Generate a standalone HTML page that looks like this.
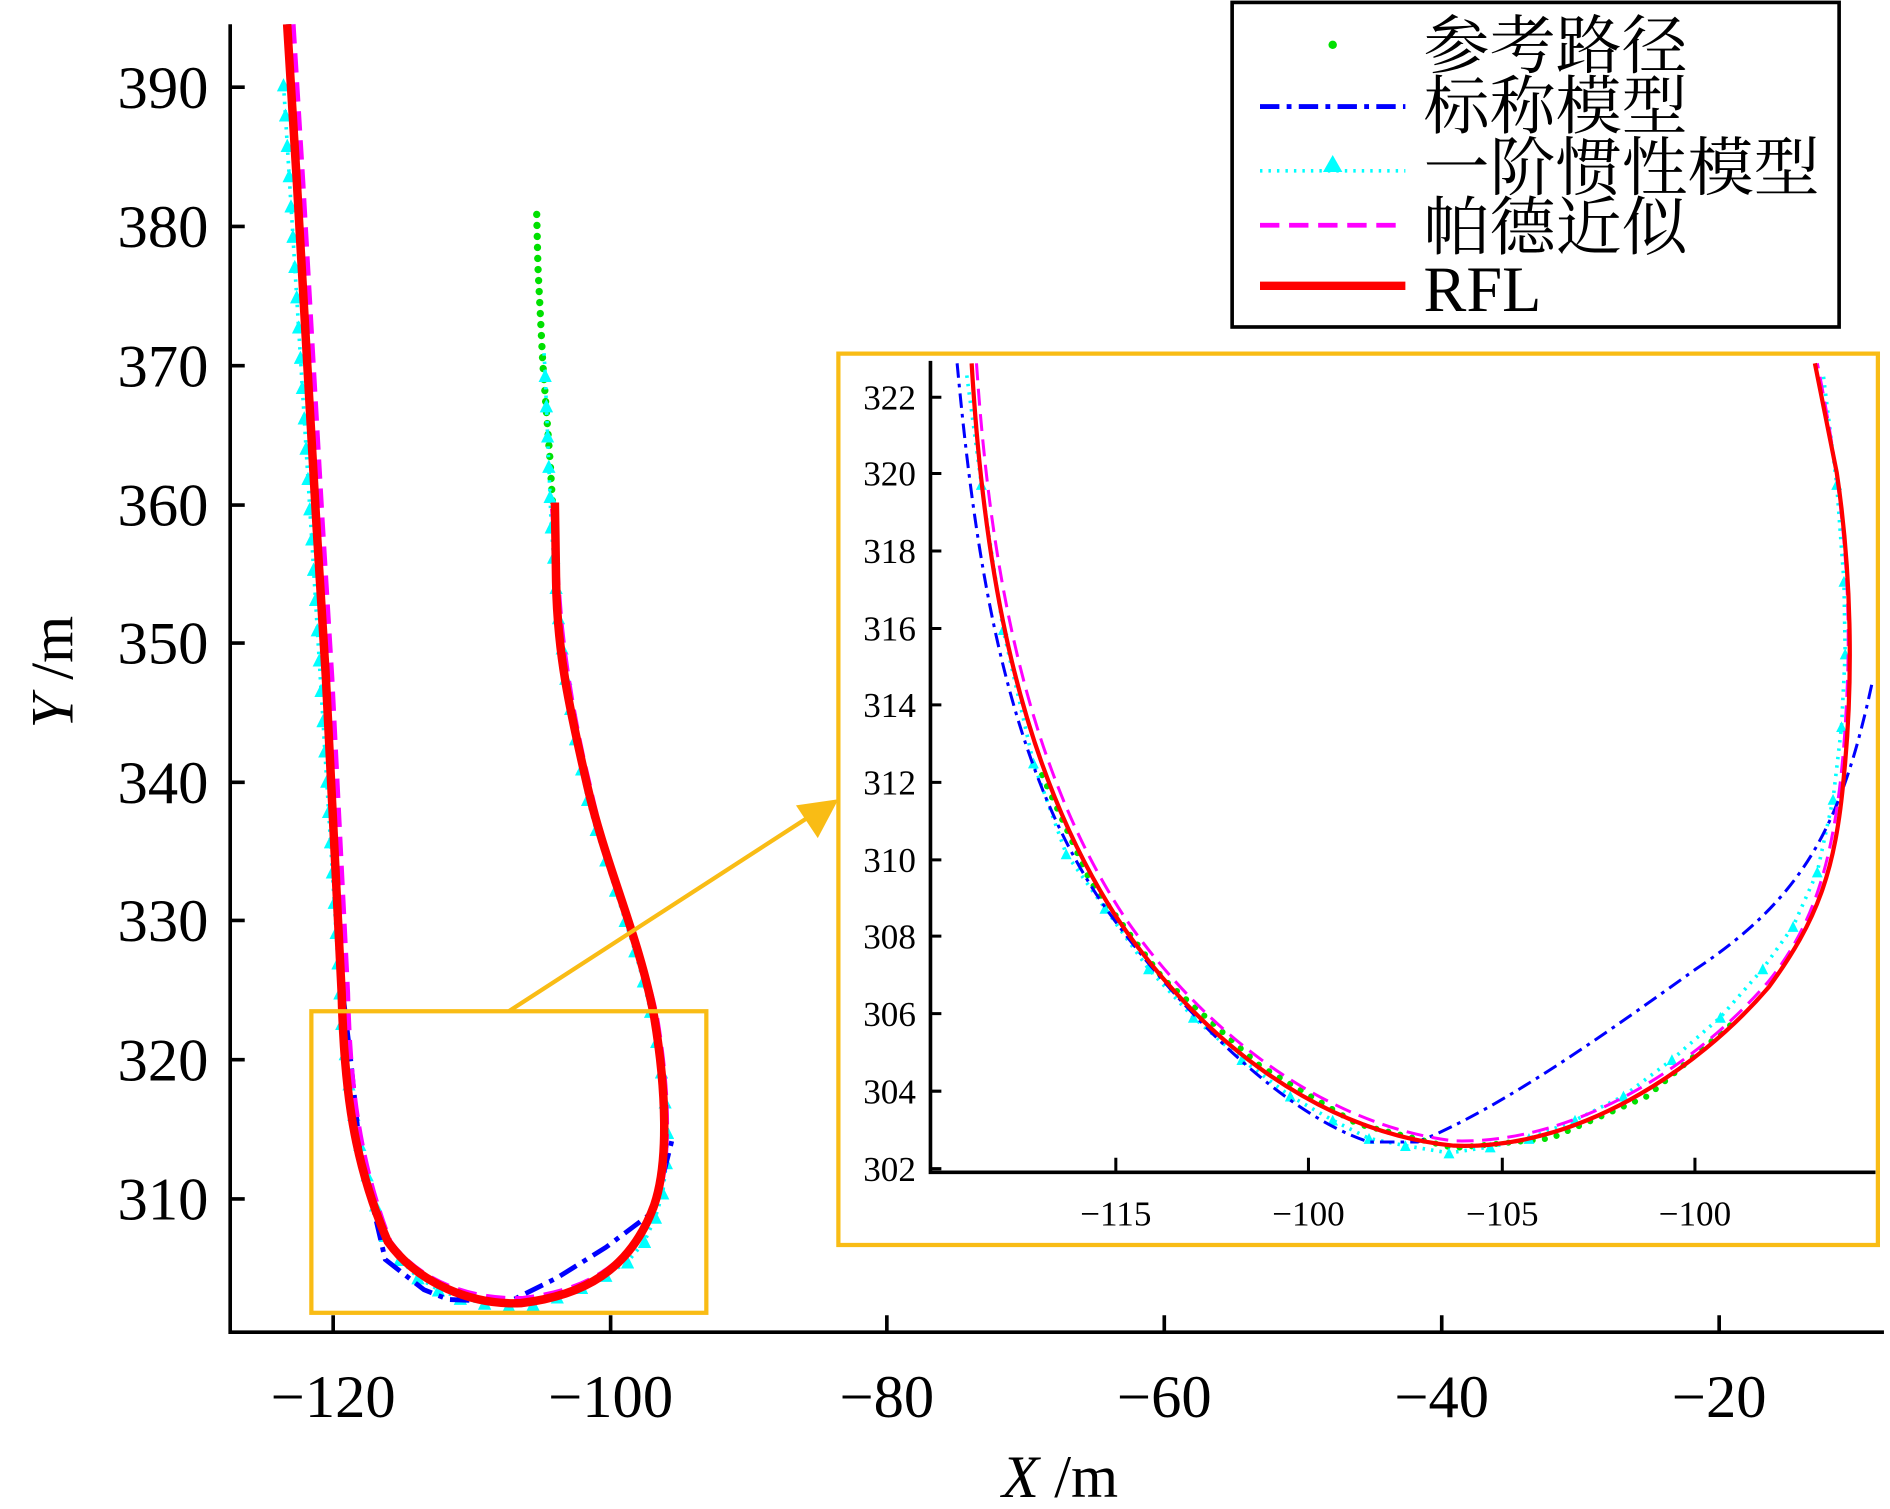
<!DOCTYPE html>
<html><head><meta charset="utf-8"><style>html,body{margin:0;padding:0;background:#fff}svg{display:block}</style></head><body>
<svg width="1890" height="1509" viewBox="0 0 1560 1246" preserveAspectRatio="none" xmlns="http://www.w3.org/2000/svg">
<defs>
<marker id="tri" viewBox="0 0 10 10" refX="5" refY="5" markerWidth="11" markerHeight="11" markerUnits="userSpaceOnUse"><path d="M5,0 L10,10 L0,10Z" fill="#00ffff"/></marker>
<marker id="tri2" viewBox="0 0 10 10" refX="5" refY="5" markerWidth="9" markerHeight="9" markerUnits="userSpaceOnUse"><path d="M5,0 L10,10 L0,10Z" fill="#00ffff"/></marker>
</defs>
<g font-family="Liberation Serif, serif" fill="#000">
<path d="M190,20 V1100 H1555" fill="none" stroke="#000" stroke-width="3"/>
<g stroke="#000" stroke-width="3">
<path d="M275,1100v-14M504,1100v-14M732,1100v-14M961,1100v-14M1190,1100v-14M1419,1100v-14"/>
<path d="M190,72h12M190,187h12M190,302h12M190,417h12M190,531h12M190,646h12M190,760h12M190,875h12M190,990h12"/>
</g>
<g font-size="50" text-anchor="middle">
<text x="275" y="1170">−120</text><text x="504" y="1170">−100</text><text x="732" y="1170">−80</text><text x="961" y="1170">−60</text><text x="1190" y="1170">−40</text><text x="1419" y="1170">−20</text>
</g>
<g font-size="50" text-anchor="end">
<text x="172" y="89">390</text><text x="172" y="204">380</text><text x="172" y="319">370</text><text x="172" y="434">360</text><text x="172" y="548">350</text><text x="172" y="663">340</text><text x="172" y="777">330</text><text x="172" y="892">320</text><text x="172" y="1007">310</text>
</g>
<text x="875" y="1236" font-size="50" text-anchor="middle"><tspan font-style="italic">X</tspan> /m</text>
<text transform="translate(60,555) rotate(-90)" font-size="50" text-anchor="middle"><tspan font-style="italic">Y</tspan> /m</text>

<polyline points="443,177 444,220 446,260 448,300 451,340 454,380 456,415" fill="none" stroke="#00e000" stroke-width="6" stroke-dasharray="0.1 9" stroke-linecap="round"/>
<polyline points="234,70 235.6,95 237.1,120 238.7,145 240.2,170 241.8,195 243.3,220 244.9,245 246.4,270 248,295 249.5,320 251.1,345 252.6,370 254.2,395 255.7,420 257.3,445 258.8,470 260.4,495 261.9,520 263.5,545 265,570 266.6,595 268.1,620 269.7,645 271.2,670 272.8,695 274.3,720 275.9,745 277.4,770 279,795 280.5,820 282.1,845 285,870 288,895 292,920 297,945 303,970 310,995 318,1020 330,1040 345,1055 362,1065 380,1072 400,1076 420,1078 440,1077 460,1071 480,1063 500,1053 518,1042 532,1025 541,1005 547,985 550,960 551,935 549,910 546,885 542,860 537,835 531,810 524,785 516,760 508,735 500,710 492,685 485,660 480,635 475,610 471,585 467,560 464,535 461,510 459,485 457,460 455,435 454,410 453,385 452,360 451,335 450,310 449,290" fill="none" stroke="#00ffff" stroke-width="3" stroke-dasharray="2 5" marker-mid="url(#tri)" marker-start="url(#tri)"/>
<polyline points="238,20 246,150 254,290 262,430 270,560 277,700 283,820 290,880 297,950 318,1040 350,1065 370,1073 420,1075 460,1055 500,1030 540,1000 555,940" fill="none" stroke="#0000ff" stroke-width="4" stroke-dasharray="16 6 4 6"/>
<path d="M242,20 L250,150 L258,290 L266,430 L274,560 L281,700 L287,820 C289,900 297,960 322,1025 C347,1060 392,1074 432,1072 C482,1066 522,1046 542,993 C554,958 552,900 542,840 C532,790 502,720 487,650 C472,590 464,530 462,500 L456,420" fill="none" stroke="#ff00ff" stroke-width="4" stroke-dasharray="16 8"/>
<path d="M237,20 L245,150 L253,290 L261,430 L269,560 L276,700 L282,820 C284,900 292,960 320,1025 C345,1060 390,1078 430,1076 C480,1070 520,1050 540,995 C552,960 550,900 540,840 C528,775 500,715 485,650 C470,585 460,540 459,480 L458,415" fill="none" stroke="#ff0000" stroke-width="7"/>

<rect x="257" y="835" width="326" height="249" fill="none" stroke="#f9bc15" stroke-width="3.5"/>
<line x1="420" y1="835" x2="670" y2="673" stroke="#f9bc15" stroke-width="3.5"/>
<path d="M692,660 L657,665 L675,692Z" fill="#f9bc15"/>

<rect x="692" y="292" width="858" height="736" fill="#fff" stroke="#f9bc15" stroke-width="3.5"/>
<path d="M768,298 V968 H1548" fill="none" stroke="#000" stroke-width="3"/>
<g stroke="#000" stroke-width="2.5">
<path d="M921,968v-12M1080,968v-12M1240,968v-12M1399,968v-12"/>
<path d="M768,328h9M768,391h9M768,455h9M768,519h9M768,582h9M768,646h9M768,710h9M768,773h9M768,837h9M768,901h9M768,965h9"/>
</g>
<g font-size="29" text-anchor="end">
<text x="756" y="338">322</text><text x="756" y="401">320</text><text x="756" y="465">318</text><text x="756" y="529">316</text><text x="756" y="592">314</text><text x="756" y="656">312</text><text x="756" y="720">310</text><text x="756" y="783">308</text><text x="756" y="847">306</text><text x="756" y="911">304</text><text x="756" y="975">302</text>
</g>
<g font-size="29" text-anchor="middle">
<text x="921" y="1012">−115</text><text x="1080" y="1012">−100</text><text x="1240" y="1012">−105</text><text x="1399" y="1012">−100</text>
</g>
<polyline points="860,640 900,728 960,808 1040,880 1120,928 1200,948 1280,940 1360,905 1430,845" fill="none" stroke="#00e000" stroke-width="5" stroke-dasharray="0.1 10" stroke-linecap="round"/>
<polyline points="798,310 810,400 828,520 853,630 880,705 912,750 948,800 985,840 1025,875 1065,905 1100,925 1130,940 1160,946 1196,952 1230,947 1262,940 1300,925 1340,905 1380,875 1420,840 1455,800 1480,765 1500,720 1513,660 1520,600 1523,540 1522,480 1516,400 1505,310" fill="none" stroke="#00ffff" stroke-width="3" stroke-dasharray="2 5" marker-mid="url(#tri2)"/>
<path d="M790,300 C805,460 830,640 920,760 C980,840 1060,920 1130,943 L1170,943 C1240,915 1330,850 1400,800 C1490,740 1520,680 1545,565" fill="none" stroke="#0000ff" stroke-width="2.5" stroke-dasharray="12 5 3 5"/>
<path d="M806,300 C818,480 850,640 930,760 C1000,860 1100,930 1200,942 C1300,945 1400,880 1460,810 C1500,760 1520,700 1525,560 C1528,470 1518,390 1500,300" fill="none" stroke="#ff00ff" stroke-width="2.5" stroke-dasharray="14 7"/>
<path d="M802,300 C812,470 840,630 920,755 C990,860 1090,935 1200,946 C1300,950 1400,885 1460,815 C1500,760 1515,720 1522,640 C1530,560 1528,470 1516,390 L1498,300" fill="none" stroke="#ff0000" stroke-width="3.5"/>

<rect x="1017" y="2" width="501" height="268" fill="#fff" stroke="#000" stroke-width="3"/>
<circle cx="1100" cy="37" r="3.5" fill="#00e000"/>
<line x1="1040" y1="88" x2="1160" y2="88" stroke="#0000ff" stroke-width="4" stroke-dasharray="16 6 4 6"/>
<line x1="1040" y1="141" x2="1160" y2="141" stroke="#00ffff" stroke-width="3" stroke-dasharray="2 5"/>
<path d="M1100,128 L1108,142 L1092,142Z" fill="#00ffff"/>
<line x1="1040" y1="186" x2="1160" y2="186" stroke="#ff00ff" stroke-width="4" stroke-dasharray="16 8"/>
<line x1="1040" y1="236" x2="1160" y2="236" stroke="#ff0000" stroke-width="7"/>
<g font-size="53" font-family="Liberation Serif, 'Noto Serif CJK SC', 'Noto Sans CJK SC', serif">
<text x="1175" y="56" textLength="218" lengthAdjust="spacingAndGlyphs">参考路径</text>
<text x="1175" y="106" textLength="218" lengthAdjust="spacingAndGlyphs">标称模型</text>
<text x="1175" y="157" textLength="327" lengthAdjust="spacingAndGlyphs">一阶惯性模型</text>
<text x="1175" y="206" textLength="218" lengthAdjust="spacingAndGlyphs">帕德近似</text>
<text x="1175" y="257">RFL</text>
</g>
</g>
</svg>
</body></html>
